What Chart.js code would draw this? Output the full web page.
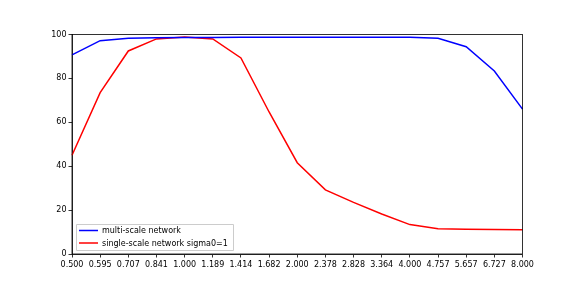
<!DOCTYPE html>
<html>
<head>
<meta charset="utf-8">
<script src="https://cdn.jsdelivr.net/npm/chart.js@4/dist/chart.umd.min.js"></script>
<style>
  html, body { margin: 0; padding: 0; background: #fff; }
  #wrap { width: 581px; height: 291px; }
</style>
</head>
<body>
<div id="wrap"><canvas id="chart" width="581" height="291"></canvas></div>
<script>
// ===== data =====
const scales = ['0.500', '0.595', '0.707', '0.841', '1.000', '1.189', '1.414', '1.682', '2.000',
                '2.378', '2.828', '3.364', '4.000', '4.757', '5.657', '6.727', '8.000'];
const multiScale = [90.7, 97.2, 98.3, 98.5, 98.6, 98.6, 98.7, 98.8, 98.8, 98.8, 98.7, 98.8, 98.7, 98.3, 94.4, 83.4, 66.0];
const singleScale = [45.0, 73.5, 92.5, 98.0, 98.9, 98.0, 89.3, 64.7, 41.6, 29.2, 23.5, 18.2, 13.4, 11.5, 11.3, 11.2, 11.1];
const yTicks = [0, 20, 40, 60, 80, 100];

const FONT = "'DejaVu Sans', sans-serif";

// frame around the plot + legend box in the lower left (matplotlib style)
const framePlugin = {
    id: 'frame',
    afterDraw(chart) {
        const { ctx, chartArea: a } = chart;
        ctx.save();
        ctx.strokeStyle = '#000';
        ctx.lineWidth = 0.8;
        ctx.strokeRect(a.left, a.top, a.right - a.left, a.bottom - a.top);

        // legend
        const bx = a.left + 4, by = a.bottom - 30, bw = 157, bh = 26;
        ctx.fillStyle = 'rgba(255,255,255,0.8)';
        ctx.strokeStyle = '#ccc';
        ctx.lineWidth = 1;
        ctx.beginPath();
        ctx.rect(bx + 0.5, by + 0.5, bw, bh);
        ctx.fill();
        ctx.stroke();
        ctx.font = '8px ' + FONT;
        ctx.textBaseline = 'middle';
        chart.data.datasets.forEach((ds, i) => {
            const y = by + 6.5 + i * 12.5;
            ctx.strokeStyle = ds.borderColor;
            ctx.lineWidth = 1.5;
            ctx.beginPath();
            ctx.moveTo(bx + 3, y);
            ctx.lineTo(bx + 22, y);
            ctx.stroke();
            ctx.fillStyle = '#000';
            ctx.fillText(ds.label, bx + 26, y + 0.5);
        });
        ctx.restore();
    }
};

new Chart(document.getElementById('chart').getContext('2d'), {
    type: 'line',
    data: {
        labels: scales,
        datasets: [
            { label: 'multi-scale network', data: multiScale, borderColor: '#0000ff', borderWidth: 1.5, pointRadius: 0, tension: 0, fill: false },
            { label: 'single-scale network sigma0=1', data: singleScale, borderColor: '#ff0000', borderWidth: 1.5, pointRadius: 0, tension: 0, fill: false }
        ]
    },
    options: {
        responsive: false,
        animation: false,
        layout: { padding: { left: 0, top: 34.5, right: 58.5, bottom: 0 } },
        plugins: {
            legend: { display: false },
            tooltip: { enabled: false }
        },
        scales: {
            x: {
                type: 'category',
                offset: false,
                grid: { drawOnChartArea: false, drawTicks: true, tickLength: 3.5, color: '#000', lineWidth: 0.8 },
                border: { display: true, color: '#000', width: 0.8 },
                ticks: { color: '#000', font: { family: FONT, size: 8 }, maxRotation: 0, autoSkip: false, padding: 3 },
                afterFit(s) { s.height = 37; }
            },
            y: {
                min: 0,
                max: 100,
                afterBuildTicks(s) { s.ticks = yTicks.map(v => ({ value: v })); },
                grid: { drawOnChartArea: false, drawTicks: true, tickLength: 3.5, color: '#000', lineWidth: 0.8 },
                border: { display: true, color: '#000', width: 0.8 },
                ticks: { color: '#000', font: { family: FONT, size: 8 }, padding: 2 },
                afterFit(s) { s.width = 72; }
            }
        }
    },
    plugins: [framePlugin]
});
</script>
</body>
</html>
